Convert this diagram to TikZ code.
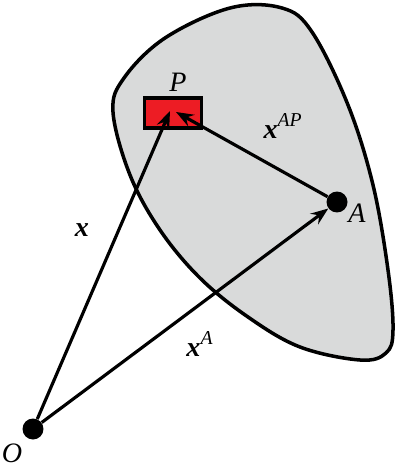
\documentclass[tikz,border=0pt]{standalone}
\usepackage{fontspec}
\setmainfont{Liberation Serif}
\usetikzlibrary{arrows.meta,positioning}
\definecolor{regiongray}{RGB}{217,218,218}
\definecolor{boxred}{RGB}{237,28,36}
\tikzset{
  vec/.style={-{Stealth[length=10pt,width=7.5pt,inset=3.5pt]},line width=1.8pt},
}
\begin{document}
\begin{tikzpicture}[x=0.02cm,y=-0.02cm,
        dot/.style={circle,fill=black,inner sep=0pt,minimum size=0.42cm},
        target/.style={rectangle,draw=black,line width=1.9pt,fill=boxred,
        minimum width=1.15cm,minimum height=0.6cm,inner sep=0pt},
        lbl/.style={inner sep=1pt,font={\fontsize{16}{18}\selectfont}}
        ]
    \useasboundingbox (0,0) rectangle (400,476);

    \draw[line width=2pt,fill=regiongray] plot[smooth cycle,tension=0.6] coordinates {
        (113,112) (124,78) (165,38) (230,8) (282,8) (312,32) (348,105) (373,185)
        (388,270) (393,330) (386,353) (360,360) (300,347) (248,317) (200,278)
        (160,230) (130,175)};

    \node[target] (P) at (173,113) {};
    \node[dot] (O) at (33,429) {};
    \node[dot] (A) at (337,202) {};
    \coordinate (p1) at (170,111);
    \coordinate (p2) at (176,112);

    \draw[vec] (O) -- (p1);
    \draw[vec] (A) -- (p2);
    \draw[vec] (O) -- (A);

    \node[lbl] (lP) at (178,82) {\textit{P}};
    \node[lbl] (lA) at (357,213) {\textit{A}};
    \node[lbl] (lO) at (12,453) {\textit{O}};
    \node[lbl] (lx) at (82,230) {\textbf{\textit{x}}};
    \node[lbl] (lxA) at (200,344) {\textbf{\textit{x}}\textsuperscript{\textit{A}}};
    \node[lbl] (lxAP) at (283,126) {\textbf{\textit{x}}\textsuperscript{\textit{AP}}};

\end{tikzpicture}
\end{document}
